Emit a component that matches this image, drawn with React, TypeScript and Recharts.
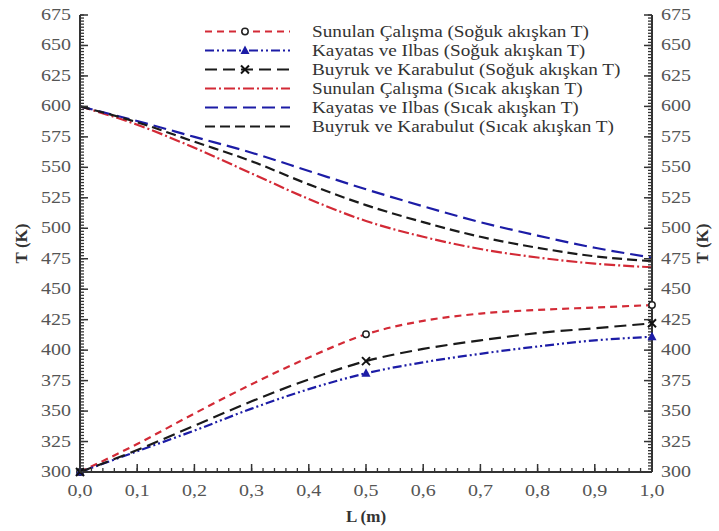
import { LineChart, Line, XAxis, YAxis } from 'recharts';

// positions along the exchanger (m)
const lengths = [0, 0.1, 0.2, 0.3, 0.4, 0.5, 0.6, 0.7, 0.8, 0.9, 1.0];

// cold fluid temperatures (K)
const sunulanCold = [300, 323, 348, 372, 394, 413, 424, 430, 433, 435, 437];
const kayatasCold = [300, 317, 334, 352, 368, 381, 390, 397, 403, 408, 411];
const buyrukCold = [300, 318, 338, 358, 376, 391, 401, 408, 414, 418, 422];

// hot fluid temperatures (K)
const sunulanHot = [600, 585, 566, 545, 524, 506, 493, 483, 476, 471, 468];
const kayatasHot = [600, 588, 575, 562, 547, 532, 518, 505, 494, 484, 476];
const buyrukHot = [600, 587, 571, 555, 536, 519, 505, 493, 484, 477, 473];

const xTicks = [0, 0.1, 0.2, 0.3, 0.4, 0.5, 0.6, 0.7, 0.8, 0.9, 1.0];
const yTicks = [300, 325, 350, 375, 400, 425, 450, 475, 500, 525, 550, 575, 600, 625, 650, 675];
const markerAt = [0, 0.5, 1.0];

const RED = '#d32a36';
const BLUE = '#1c1ca6';
const BLACK = '#1a1a1a';
const AXIS = '#333';
const FONT = '"Liberation Serif", "Times New Roman", serif';

// plot box
const W = 719, H = 531;
const LEFT = 80, RIGHT = 652, TOP = 15, BOTTOM = 472;

const data = lengths.map((l, i) => ({
  L: l,
  sc: sunulanCold[i], kc: kayatasCold[i], bc: buyrukCold[i],
  sh: sunulanHot[i], kh: kayatasHot[i], bh: buyrukHot[i],
}));

// cold series on bottom/left axes, hot series on top/right axes (same scales)
const series = [
  { key: 'sc', name: 'Sunulan Çalışma (Soğuk akışkan T)', color: RED, dash: '7 5', marker: 'circle', hot: false },
  { key: 'kc', name: 'Kayatas ve Ilbas (Soğuk akışkan T)', color: BLUE, dash: '9 3 2 3 2 3', marker: 'triangle', hot: false },
  { key: 'bc', name: 'Buyruk ve Karabulut (Soğuk akışkan T)', color: BLACK, dash: '12 6', marker: 'x', hot: false },
  { key: 'sh', name: 'Sunulan Çalışma (Sıcak akışkan T)', color: RED, dash: '11 3 2 3', marker: null, hot: true },
  { key: 'kh', name: 'Kayatas ve Ilbas (Sıcak akışkan T)', color: BLUE, dash: '13 6', marker: null, hot: true },
  { key: 'bh', name: 'Buyruk ve Karabulut (Sıcak akışkan T)', color: BLACK, dash: '10 5', marker: null, hot: true },
];

function Marker({ shape, cx, cy }: any) {
  if (shape === 'circle') return <circle cx={cx} cy={cy} r={3.2} fill="#fff" stroke="#222" strokeWidth={1.5} />;
  if (shape === 'triangle')
    return <polygon points={`${cx},${cy - 5} ${cx - 4.5},${cy + 3.5} ${cx + 4.5},${cy + 3.5}`} fill={BLUE} />;
  if (shape === 'x')
    return (
      <g stroke="#111" strokeWidth={2}>
        <line x1={cx - 4} y1={cy - 4} x2={cx + 4} y2={cy + 4} />
        <line x1={cx - 4} y1={cy + 4} x2={cx + 4} y2={cy - 4} />
      </g>
    );
  return null;
}

const makeDot = (shape: string | null) => (props: any) => {
  const { cx, cy, payload, index } = props;
  if (!shape || !markerAt.includes(payload.L)) return <g key={`n${index}`} />;
  return <g key={`m${index}`}><Marker shape={shape} cx={cx} cy={cy} /></g>;
};

const isMajorY = (v: number) => yTicks.includes(v);
const isMajorX = (v: number) => xTicks.some((t) => Math.abs(t - v) < 1e-6);

const yMinor: number[] = [];
for (let v = 300; v <= 675.001; v += 2.5) yMinor.push(v);
const xMinor: number[] = [];
for (let i = 0; i <= 50; i++) xMinor.push(i / 50);

const label = (v: number) => v.toFixed(1).replace('.', ',');

function LeftTick(props: any) {
  const { y, payload } = props;
  const major = isMajorY(payload.value);
  return (
    <g>
      {major && <path d={`M${LEFT},${y}h8`} stroke={AXIS} strokeWidth={1.5} />}
      {major && (
        <text transform={`translate(${LEFT - 9},${y + 5}) scale(1.25,1)`} textAnchor="end" fontSize={16} fill="#555" fontFamily={FONT}>
          {payload.value}
        </text>
      )}
    </g>
  );
}

function RightTick(props: any) {
  const { y, payload } = props;
  const major = isMajorY(payload.value);
  return (
    <g>
      {major && <path d={`M${RIGHT},${y}h-8`} stroke={AXIS} strokeWidth={1.5} />}
      {major && (
        <text transform={`translate(${RIGHT + 9},${y + 5}) scale(1.25,1)`} textAnchor="start" fontSize={16} fill="#555" fontFamily={FONT}>
          {payload.value}
        </text>
      )}
    </g>
  );
}

function BottomTick(props: any) {
  const { x, payload } = props;
  const major = isMajorX(payload.value);
  return (
    <g>
      {major && <path d={`M${x},${BOTTOM}v-8`} stroke={AXIS} strokeWidth={1.5} />}
      {major && (
        <text transform={`translate(${x},${BOTTOM + 24}) scale(1.25,1)`} textAnchor="middle" fontSize={16} fill="#555" fontFamily={FONT}>
          {label(payload.value)}
        </text>
      )}
    </g>
  );
}

function LegendBox() {
  return (
    <div style={{ position: 'absolute', left: 200, top: 22, fontFamily: FONT, fontSize: 16, color: '#333' }}>
      {series.map((s) => (
        <div key={s.key} style={{ height: 19, display: 'flex', alignItems: 'center', whiteSpace: 'nowrap' }}>
          <svg width={112} height={19}>
            <line x1={5} x2={90} y1={9.5} y2={9.5} stroke={s.color} strokeWidth={2.2} strokeDasharray={s.dash} />
            <Marker shape={s.marker} cx={45} cy={9.5} />
          </svg>
          <span style={{ display: 'inline-block', transform: 'scaleX(1.2)', transformOrigin: 'left center' }}>{s.name}</span>
        </div>
      ))}
    </div>
  );
}

const minorLine = { stroke: AXIS, strokeWidth: 1.3 };

export default function App() {
  return (
    <div style={{ position: 'absolute', left: 0, top: 0, width: W, height: H, background: '#fff' }}>
      <LineChart width={W} height={H} data={data} margin={{ top: TOP, right: 0, bottom: 0, left: 0 }}>
        <XAxis
          xAxisId="bottom" dataKey="L" type="number" domain={[0, 1]} ticks={xMinor} tick={<BottomTick />}
          tickLine={minorLine} tickSize={-4} interval={0} height={H - BOTTOM} stroke={AXIS} strokeWidth={2}
        />
        <XAxis
          xAxisId="top" orientation="top" dataKey="L" type="number" domain={[0, 1]}
          tick={false} tickLine={false} height={0} stroke="#777" strokeWidth={2}
        />
        <YAxis
          yAxisId="left" type="number" domain={[300, 675]} ticks={yMinor} tick={<LeftTick />}
          tickLine={minorLine} tickSize={-4} interval={0} width={LEFT} stroke={AXIS} strokeWidth={2}
        />
        <YAxis
          yAxisId="right" orientation="right" type="number" domain={[300, 675]} ticks={yMinor} tick={<RightTick />}
          tickLine={minorLine} tickSize={-4} interval={0} width={W - RIGHT} stroke={AXIS} strokeWidth={2}
        />
        {series.map((s) => (
          <Line
            key={s.key}
            xAxisId={s.hot ? 'top' : 'bottom'}
            yAxisId={s.hot ? 'right' : 'left'}
            type="monotone" dataKey={s.key} name={s.name}
            stroke={s.color} strokeWidth={2.2} strokeDasharray={s.dash}
            dot={makeDot(s.marker)} activeDot={false} isAnimationActive={false}
          />
        ))}
        <text transform={`translate(27,${(TOP + BOTTOM) / 2}) rotate(-90)`} textAnchor="middle" fontSize={17} fontWeight="bold" fontFamily={FONT} fill="#333">
          T (K)
        </text>
        <text transform={`translate(708,${(TOP + BOTTOM) / 2}) rotate(-90)`} textAnchor="middle" fontSize={17} fontWeight="bold" fontFamily={FONT} fill="#333">
          T (K)
        </text>
        <text x={(LEFT + RIGHT) / 2} y={522} textAnchor="middle" fontSize={17} fontWeight="bold" fontFamily={FONT} fill="#333">
          L (m)
        </text>
      </LineChart>
      <LegendBox />
    </div>
  );
}
